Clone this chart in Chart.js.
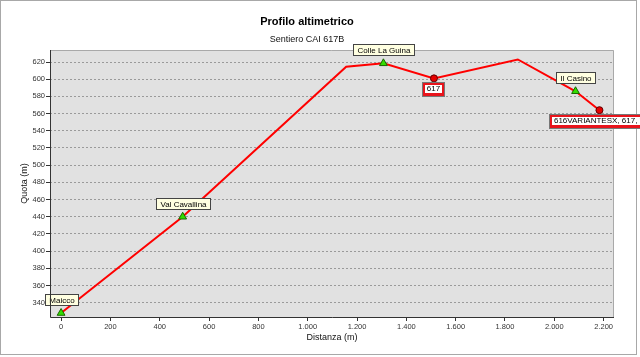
<!DOCTYPE html>
<html>
<head>
<meta charset="utf-8">
<script src="https://cdn.jsdelivr.net/npm/chart.js@4.4.0/dist/chart.umd.min.js"></script>
<style>
  html, body { margin: 0; padding: 0; background: #fff; }
  #wrap { width: 640px; height: 357px; }
</style>
</head>
<body>
<div id="wrap"><canvas id="profilo" width="640" height="357"></canvas></div>
<script>
// profilo del sentiero: distanza progressiva (m) e quota (m)
const distanze = [0, 493, 1156, 1307, 1512, 1852, 2086, 2183];
const quote = [328, 440, 614.5, 618.5, 601, 623, 586, 564];
const nomi = ['Maicco', 'Val Cavallina', '', 'Colle La Guina', '617', '', 'Il Casino', '616VARIANTESX, 617, 7'];
// 'localita' = triangolo verde, 'incrocio' = pallino rosso, '' = nessun segno
const tipoPunto = ['localita', 'localita', '', 'localita', 'incrocio', '', 'localita', 'incrocio'];
const tickDistanza = [0, 200, 400, 600, 800, 1000, 1200, 1400, 1600, 1800, 2000, 2200];
const tickQuota = [340, 360, 380, 400, 420, 440, 460, 480, 500, 520, 540, 560, 580, 600, 620];

const FONT = '"Liberation Sans", Arial, sans-serif';

function migliaia(v) {
  return String(v).replace(/\B(?=(\d{3})+(?!\d))/g, '.');
}

const sfondo = {
  id: 'sfondo',
  beforeDraw(chart) {
    const { ctx, chartArea: a } = chart;
    ctx.save();
    ctx.fillStyle = '#fff';
    ctx.fillRect(0, 0, chart.width, chart.height);
    ctx.strokeStyle = '#a8a8a8';
    ctx.lineWidth = 1;
    ctx.strokeRect(0.5, 0.5, 636, 354);
    ctx.fillStyle = '#e1e1e1';
    ctx.fillRect(a.left, a.top, a.right - a.left, a.bottom - a.top);
    ctx.strokeStyle = '#a9a9a9';
    ctx.beginPath();
    ctx.moveTo(a.left, a.top + 0.5);
    ctx.lineTo(a.right - 0.5, a.top + 0.5);
    ctx.lineTo(a.right - 0.5, a.bottom);
    ctx.stroke();
    ctx.restore();
  },
  // assi sinistro e inferiore, continui
  afterDraw(chart) {
    const { ctx, chartArea: a } = chart;
    ctx.save();
    ctx.strokeStyle = '#333';
    ctx.lineWidth = 1;
    ctx.beginPath();
    ctx.moveTo(a.left + 0.5, a.top);
    ctx.lineTo(a.left + 0.5, a.bottom + 0.5);
    ctx.lineTo(a.right, a.bottom + 0.5);
    ctx.stroke();
    ctx.restore();
  }
};

const etichette = {
  id: 'etichette',
  afterDatasetsDraw(chart) {
    const { ctx, scales: { x, y } } = chart;
    ctx.save();
    ctx.font = '8px ' + FONT;
    ctx.textAlign = 'center';
    ctx.textBaseline = 'middle';
    nomi.forEach((nome, i) => {
      if (!nome) return;
      const px = x.getPixelForValue(distanze[i]);
      const py = y.getPixelForValue(quote[i]);
      const w = Math.round(ctx.measureText(nome).width) + 8;
      if (tipoPunto[i] === 'localita') {
        const h = 11;
        const bx = Math.round(px - w / 2) + 0.5;
        const by = Math.round(py - 8 - h) + 0.5;
        ctx.fillStyle = '#ffffe1';
        ctx.fillRect(bx, by, w, h);
        ctx.strokeStyle = '#444';
        ctx.lineWidth = 1;
        ctx.strokeRect(bx, by, w, h);
        ctx.fillStyle = '#000';
        ctx.fillText(nome, bx + w / 2, by + h / 2 + 0.5);
      } else {
        const h = 13;
        const bx = Math.round(px - w / 2);
        const by = Math.round(py + 5);
        ctx.fillStyle = '#e8141c';
        ctx.fillRect(bx, by, w, h);
        ctx.fillStyle = '#fff';
        ctx.fillRect(bx + 2, by + 2, w - 4, h - 5);
        ctx.strokeStyle = '#777';
        ctx.lineWidth = 1;
        ctx.strokeRect(bx - 0.5, by - 0.5, w + 1, h + 1);
        ctx.fillStyle = '#000';
        ctx.fillText(nome, bx + w / 2, by + h / 2 - 0.5);
      }
    });
    ctx.restore();
  }
};

new Chart(document.getElementById('profilo'), {
  type: 'line',
  data: {
    datasets: [{
      label: 'Profilo',
      data: distanze.map((d, i) => ({ x: d, y: quote[i] })),
      borderColor: '#ff0000',
      borderWidth: 2,
      tension: 0,
      fill: false,
      pointStyle: ctx => tipoPunto[ctx.dataIndex] === 'incrocio' ? 'circle' : 'triangle',
      pointRadius: ctx => tipoPunto[ctx.dataIndex] === 'incrocio' ? 3.5 : (tipoPunto[ctx.dataIndex] ? 4.5 : 0),
      pointBackgroundColor: ctx => tipoPunto[ctx.dataIndex] === 'incrocio' ? '#e60000' : '#33dd00',
      pointBorderColor: ctx => tipoPunto[ctx.dataIndex] === 'incrocio' ? '#600000' : '#1a6600',
      pointBorderWidth: 1
    }]
  },
  options: {
    responsive: false,
    devicePixelRatio: 1,
    animation: false,
    clip: false,
    layout: { padding: { left: 0, right: 26, top: 0, bottom: 0 } },
    plugins: {
      legend: { display: false },
      tooltip: { enabled: false },
      title: {
        display: true,
        text: 'Profilo altimetrico',
        color: '#000',
        font: { family: FONT, size: 11, weight: 'bold' },
        padding: { top: 15, bottom: 5 }
      },
      subtitle: {
        display: true,
        text: 'Sentiero CAI 617B',
        color: '#111',
        font: { family: FONT, size: 9 },
        padding: { top: 1, bottom: 5 }
      }
    },
    scales: {
      x: {
        type: 'linear',
        min: -45,
        max: 2242,
        afterFit: s => { s.height = 40; },
        afterBuildTicks: s => { s.ticks = tickDistanza.map(v => ({ value: v })); },
        grid: { drawOnChartArea: false, color: '#333', tickLength: 4 },
        border: { display: false },
        ticks: {
          color: '#333',
          padding: 1,
          maxRotation: 0,
          font: { family: FONT, size: 7.5 },
          callback: v => migliaia(v)
        },
        title: {
          display: true,
          text: 'Distanza (m)',
          color: '#111',
          font: { family: FONT, size: 9 },
          padding: { top: 0, bottom: 14 }
        }
      },
      y: {
        type: 'linear',
        min: 323.4,
        max: 634,
        afterFit: s => { s.width = 50; },
        afterBuildTicks: s => { s.ticks = tickQuota.map(v => ({ value: v })); },
        grid: {
          color: '#9a9a9a',
          tickColor: '#333',
          tickBorderDash: [],
          tickLength: 4
        },
        border: { display: false, dash: [2, 2] },
        ticks: {
          color: '#333',
          padding: 1,
          font: { family: FONT, size: 7.5 }
        },
        title: {
          display: true,
          text: 'Quota (m)',
          color: '#111',
          font: { family: FONT, size: 9 },
          padding: { top: 19, bottom: 0 }
        }
      }
    }
  },
  plugins: [sfondo, etichette]
});
</script>
</body>
</html>
